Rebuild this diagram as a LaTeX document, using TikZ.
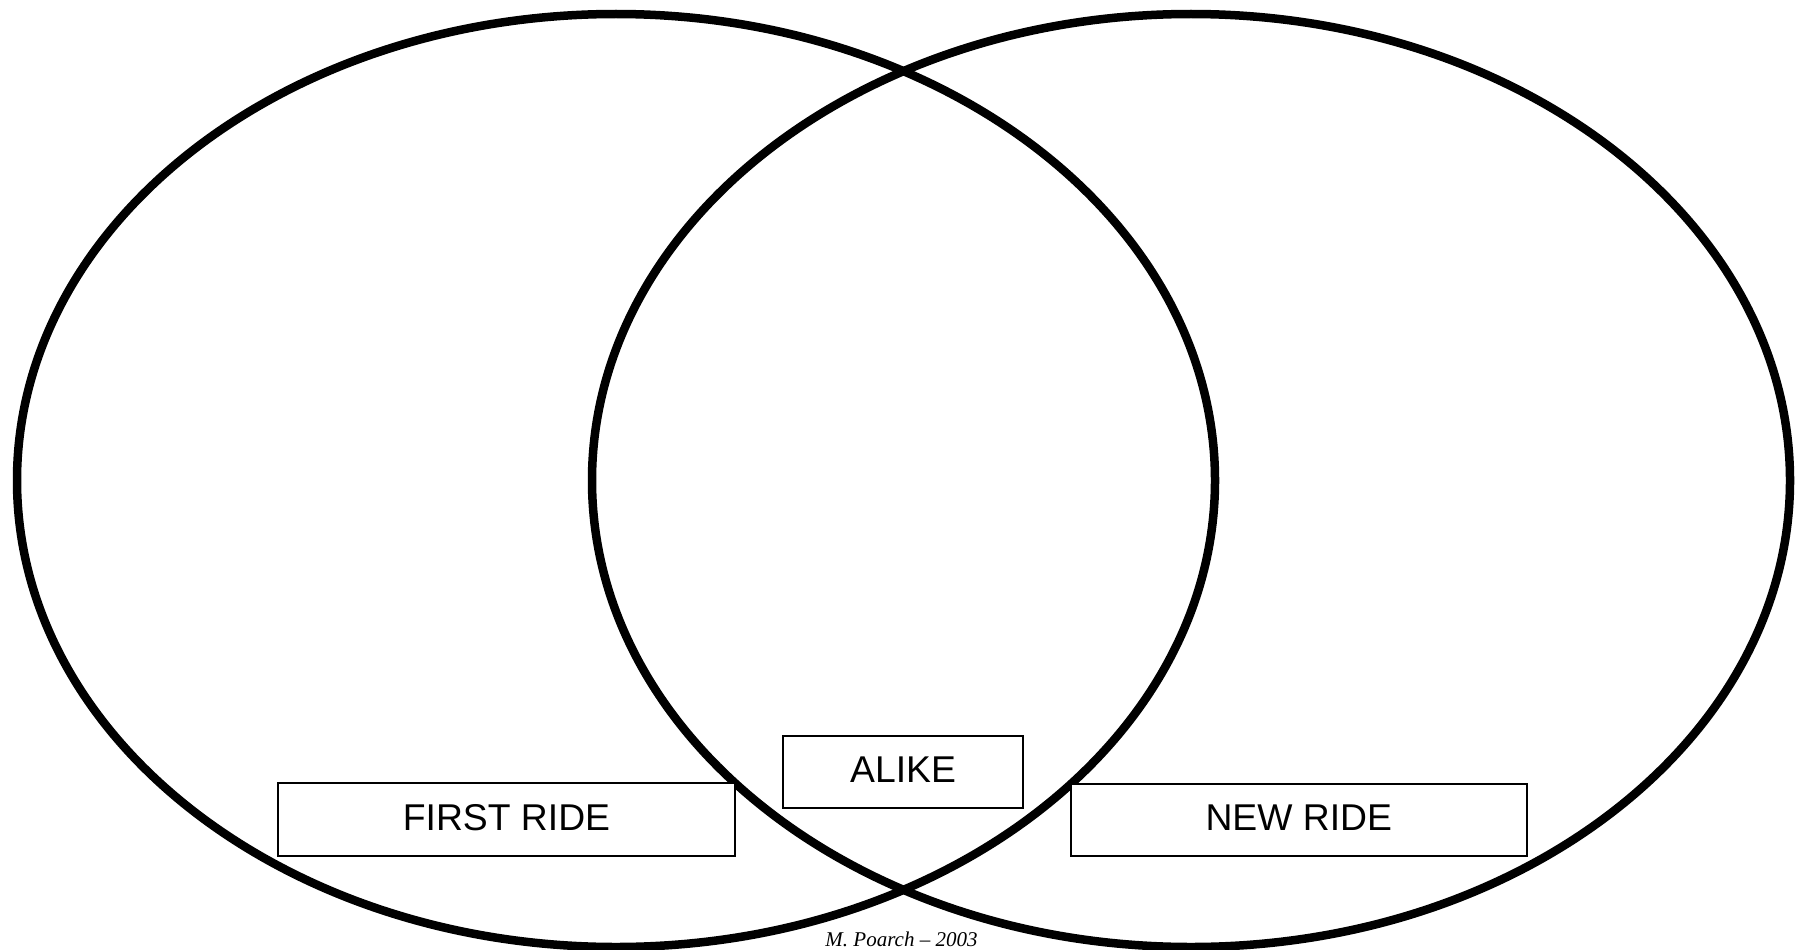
\documentclass[tikz,border=0pt]{standalone}
\usepackage{fontspec}
\setmainfont{Liberation Sans}
\newfontfamily\footfont{Liberation Serif}
\begin{document}
\begin{tikzpicture}[x=1pt,y=-1pt,
  ring/.style={draw=black,line width=8.5pt},
  labelbox/.style={draw=black,line width=2pt,fill=white,rectangle,inner sep=0pt,
    font=\fontsize{37.3}{40}\selectfont},
]
\useasboundingbox (0,0) rectangle (1801,950);
\begin{scope}
\clip (0,0) rectangle (1801,950);
\draw[ring] (616,480.5) ellipse [x radius=599,y radius=466.5];
\draw[ring] (1191,480.5) ellipse [x radius=599,y radius=466.5];
\end{scope}
\node[labelbox,minimum width=457pt,minimum height=73pt] (first) at (506.5,819.5) {\raisebox{5pt}{FIRST RIDE}};
\node[labelbox,minimum width=240.6pt,minimum height=72pt] (alike) at (903,771.7) {\raisebox{5pt}{ALIKE}};
\node[labelbox,minimum width=455.7pt,minimum height=71.7pt] (new) at (1298.8,819.8) {\raisebox{5pt}{NEW RIDE}};
\node[anchor=base,inner sep=0pt,font=\footfont\itshape\fontsize{21}{23}\selectfont] (credit) at (901.5,946) {M. Poarch – 2003};
\end{tikzpicture}
\end{document}
